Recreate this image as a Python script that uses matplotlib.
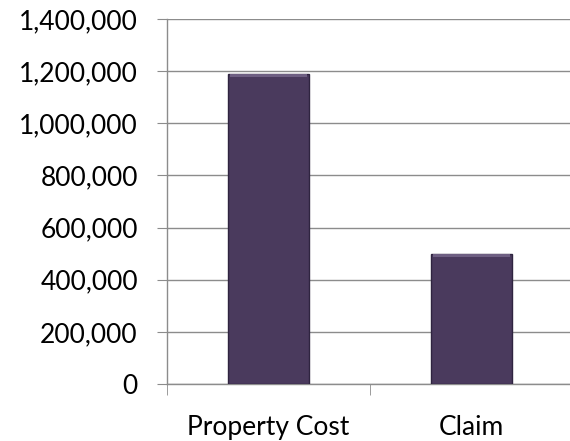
import numpy as np
import matplotlib.pyplot as plt
from matplotlib.ticker import FuncFormatter

categories = ['Property Cost', 'Claim']
values = [1190000, 500000]
yticks = [0, 200000, 400000, 600000, 800000, 1000000, 1200000, 1400000]

plt.rcParams['font.family'] = ['Lato', 'DejaVu Sans']

fig = plt.figure(figsize=(5.70, 4.41), dpi=100)
ax = fig.add_axes([167 / 570, 1 - 384 / 441, 406 / 570, 365 / 441])

x = np.arange(len(categories))
bars = ax.bar(x, values, width=0.40, color='#4a3a5d', edgecolor='#2f2440', linewidth=1.0, zorder=3)
# light bevel strip along the top of each bar
for b, v in zip(bars, values):
    ax.bar(b.get_x() + b.get_width() / 2, 14000, bottom=v - 14000, width=b.get_width() * 0.96,
           color='#6e5f82', linewidth=0, zorder=4)

ax.set_xlim(-0.5, len(categories) - 0.5)
ax.set_ylim(0, 1400000)
ax.set_yticks(yticks)
ax.yaxis.set_major_formatter(FuncFormatter(lambda v, p: f'{int(v):,}'))
ax.set_xticks(x)
ax.set_xticklabels(categories)
ax.set_xticks([-0.5, 0.5, 1.5], minor=True)

ax.grid(axis='y', color='#8c8c8c', linewidth=1.0, zorder=0)
for s in ['top', 'right']:
    ax.spines[s].set_visible(False)
for s in ['left', 'bottom']:
    ax.spines[s].set_color('#8c8c8c')
    ax.spines[s].set_linewidth(1.0)

ax.tick_params(axis='y', labelsize=19, length=7, color='#8c8c8c', pad=14)
ax.tick_params(axis='x', which='major', labelsize=19, length=0, pad=22)
ax.tick_params(axis='x', which='minor', length=8, color='#8c8c8c')

fig.savefig('out.png', dpi=100)
